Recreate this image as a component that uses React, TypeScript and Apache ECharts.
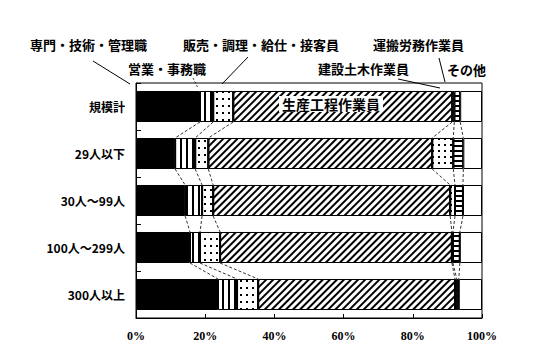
import React, { useEffect, useRef } from "react";
import * as echarts from "echarts";

const categories = ["規模計", "29人以下", "30人～99人", "100人～299人", "300人以上"];
const occupations = [
  "専門・技術・管理職",
  "営業・事務職",
  "販売・調理・給仕・接客員",
  "生産工程作業員",
  "建設土木作業員",
  "運搬労務作業員",
  "その他",
];
const senmon = [18.5, 11.3, 14.2, 15.6, 23.7];
const eigyo = [3.8, 5.8, 4.9, 2.9, 5.5];
const hanbai = [5.8, 3.8, 3.2, 5.8, 6.1];
const seisan = [63.3, 64.7, 68.5, 67.0, 56.9];
const kensetsu = [0.6, 6.1, 1.4, 0.3, 0.5];
const unpan = [1.7, 2.9, 2.3, 2.0, 0.6];
const sonota = [6.3, 5.4, 5.5, 6.4, 6.7];
const seriesValues = [senmon, eigyo, hanbai, seisan, kensetsu, unpan, sonota];
const xTicks = [0, 20, 40, 60, 80, 100];

const JP = '"Noto Sans CJK JP", "Noto Sans", sans-serif';
const BAR_FRAC = 0.66;

const decals: any[] = [
  null,
  { symbol: "rect", symbolSize: 1, dashArrayX: [2, 4], dashArrayY: [1, 0], color: "#000", backgroundColor: "#fff" },
  { symbol: "rect", symbolSize: 1, dashArrayX: [1.3, 4], dashArrayY: [1.3, 4.5], color: "#000", backgroundColor: "#fff" },
  { symbol: "rect", symbolSize: 1, dashArrayX: [1, 0], dashArrayY: [1.6, 2.8], rotation: -Math.PI / 4, color: "#000", backgroundColor: "#fff" },
  { symbol: "rect", symbolSize: 1, dashArrayX: [1.3, 3.2], dashArrayY: [1.3, 3.5], color: "#000", backgroundColor: "#fff" },
  { symbol: "rect", symbolSize: 1, dashArrayX: [1, 0], dashArrayY: [2, 3], color: "#000", backgroundColor: "#fff" },
  null,
];

export default function App() {
  const ref = useRef<HTMLDivElement>(null);
  useEffect(() => {
    if (!ref.current) return;
    const chart = echarts.init(ref.current, null, { renderer: "svg" });

    const cums: number[][] = categories.map((_, ci) => {
      const out: number[] = [];
      let s = 0;
      for (let k = 0; k < seriesValues.length - 1; k++) {
        s += seriesValues[k][ci];
        out.push(s);
      }
      return out;
    });
    const connData: number[][] = [];
    for (let ci = 0; ci < categories.length - 1; ci++) {
      for (let k = 0; k < cums[ci].length; k++) {
        connData.push([cums[ci][k], ci, k]);
      }
    }

    const barSeries = occupations.map((name, idx) => ({
      name,
      type: "bar",
      stack: "total",
      barWidth: `${BAR_FRAC * 100}%`,
      data: seriesValues[idx],
      itemStyle: {
        color: idx === 0 ? "#000" : "#fff",
        borderColor: "#000",
        borderWidth: 1,
        ...(decals[idx] ? { decal: decals[idx] } : {}),
      },
      emphasis: { disabled: true },
    }));

    chart.setOption({
      animation: false,
      backgroundColor: "#fff",
      grid: { left: 136, right: 55, top: 83, bottom: 39, show: true, borderColor: "#000", borderWidth: 1 },
      xAxis: {
        type: "value",
        min: xTicks[0],
        max: xTicks[xTicks.length - 1],
        interval: 20,
        axisLine: { show: true, lineStyle: { color: "#000" } },
        axisTick: { show: true, inside: true, length: 4, lineStyle: { color: "#000" } },
        splitLine: { show: false },
        axisLabel: {
          formatter: "{value}%",
          margin: 12,
          color: "#000",
          fontSize: 12,
          fontWeight: "bold",
          fontFamily: '"Liberation Serif", serif',
        },
      },
      yAxis: {
        type: "category",
        inverse: true,
        data: categories,
        axisLine: { show: true, lineStyle: { color: "#000" } },
        axisTick: { show: true, inside: true, length: 5, lineStyle: { color: "#000" } },
        axisLabel: { margin: 11, color: "#000", fontSize: 12, fontWeight: "bold", fontFamily: JP },
      },
      series: [
        ...barSeries,
        {
          type: "custom",
          coordinateSystem: "cartesian2d",
          encode: { x: 0, y: 1 },
          data: connData,
          silent: true,
          z: 5,
          renderItem: (params: any, api: any) => {
            const ci = api.value(1);
            const k = api.value(2);
            const p1 = api.coord([api.value(0), ci]);
            const p2 = api.coord([cums[ci + 1][k], ci + 1]);
            const band = api.size([0, 1])[1];
            const half = (band * BAR_FRAC) / 2;
            return {
              type: "line",
              shape: { x1: p1[0], y1: p1[1] + half, x2: p2[0], y2: p2[1] - half },
              style: { stroke: "#000", lineWidth: 0.8, lineDash: [3, 2] },
            };
          },
        },
      ],
      graphic: [
        { type: "text", x: 30, y: 44, style: { text: occupations[0], font: `bold 13px ${JP}`, verticalAlign: "middle", fill: "#000" } },
        { type: "text", x: 128, y: 68, style: { text: occupations[1], font: `bold 13px ${JP}`, verticalAlign: "middle", fill: "#000" } },
        { type: "text", x: 183, y: 44, style: { text: occupations[2], font: `bold 13px ${JP}`, verticalAlign: "middle", fill: "#000" } },
        { type: "text", x: 373, y: 44, style: { text: occupations[5], font: `bold 13px ${JP}`, verticalAlign: "middle", fill: "#000" } },
        { type: "text", x: 318, y: 68, style: { text: occupations[4], font: `bold 13px ${JP}`, verticalAlign: "middle", fill: "#000" } },
        { type: "text", x: 447, y: 69, style: { text: occupations[6], font: `bold 13px ${JP}`, verticalAlign: "middle", fill: "#000" } },
        {
          type: "text",
          x: 331,
          y: 104,
          z: 10,
          style: {
            text: occupations[3],
            font: `bold 14px ${JP}`,
            align: "center",
            verticalAlign: "middle",
            fill: "#000",
            backgroundColor: "#fff",
            padding: [1, 3],
          },
        },
        { type: "line", shape: { x1: 93, y1: 61, x2: 130, y2: 84 }, style: { stroke: "#000", lineWidth: 1 } },
        { type: "line", shape: { x1: 193, y1: 78, x2: 198, y2: 88 }, style: { stroke: "#000", lineWidth: 0.8, lineDash: [2, 2] } },
        { type: "line", shape: { x1: 248, y1: 57, x2: 222, y2: 84 }, style: { stroke: "#000", lineWidth: 1 } },
        { type: "line", shape: { x1: 398, y1: 79, x2: 440, y2: 88 }, style: { stroke: "#000", lineWidth: 1 } },
        { type: "line", shape: { x1: 439, y1: 58, x2: 445, y2: 82 }, style: { stroke: "#000", lineWidth: 1 } },
      ],
    });
    return () => chart.dispose();
  }, []);
  return <div ref={ref} style={{ width: 537, height: 357, position: "absolute", left: 0, top: 0 }} />;
}
